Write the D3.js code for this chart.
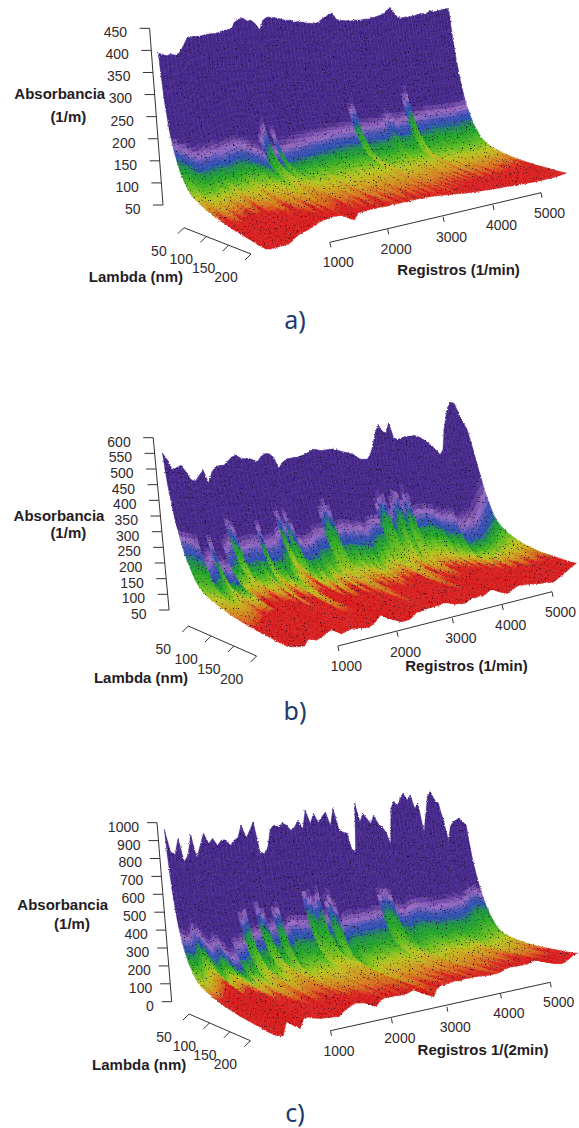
<!DOCTYPE html>
<html>
<head>
<meta charset="utf-8">
<script src="https://cdn.jsdelivr.net/npm/d3@7"></script>
<style>
  body { margin: 0; background: #fff; }
  text { font-family: "Liberation Sans", Arial, sans-serif; fill: #33292c; }
  .titulo { font-weight: bold; font-size: 15px; fill: #241c1f; }
  .marca { font-size: 14px; }
  .pie { font-family: "Noto Sans", sans-serif; font-size: 25px; fill: #1b3a6d; }
</style>
</head>
<body>
<div id="chart"></div>
<script>
// registros of each column of the surface
var registros = [0,70,140,210,280,350,420,490,560,630,700,770,840,910,980,1050,1120,1190,1260,1330,
  1400,1470,1540,1610,1680,1750,1820,1890,1960,2030,2100,2170,2240,2310,2380,2450,2520,2590,2660,2730,
  2800,2870,2940,3010,3080,3150,3220,3290,3360,3430,3500,3570,3640,3710,3780,3850,3920,3990,4060,4130,
  4200,4270,4340,4410,4480,4550,4620,4690,4760,4830,4900,4970,5040,5110,5180,5250,5320,5390,5460,5530]

// lambda of each row, and how the absorbance falls along it
var lambdas = [12,14,16,18,20,22,24,26,28,30,32,34,36,38,40,43,46,49,52,56,60,65,70,76,82,90,98,106,115,125,135,145,155,165,175,185,195,205,220]
var caida = [1,.98,.96,.93,.91,.87,.83,.79,.75,.71,.67,.63,.59,.56,.52,.47,.43,.39,.35,.31,.28,.25,.23,.21,.19,.17,.15,.135,.115,.1,.085,.07,.06,.05,.04,.03,.02,.01,0]
var pared = [1,.75,.55,.4,.3,.21,.15,.1,.07,.05,.03,.02,.01,.005,0,0,0,0,0,0,0,0,0,0,0,0,0,0,0,0,0,0,0,0,0,0,0,0,0]

// a) absorbance at the back of each column, at the front, lambda where it turns blue and red
var techoA = [398,394,391,394,391,396,410,428,432,432,432,434,436,437,437,440,443,445,447,463,
  469,472,464,466,457,442,465,472,472,470,468,465,463,463,458,459,457,455,453,453,
  455,463,468,476,478,462,459,458,457,456,458,458,458,460,460,462,464,467,470,473,
  482,489,474,462,460,462,462,463,465,468,470,470,472,478,474,476,478,480,482,483]
var sueloA = [52,50,50,50,50,51,54,62,67,70,72,76,81,84,86,88,89,88,87,82,
  75,68,84,84,84,85,84,85,84,83,84,83,83,84,82,83,82,83,81,82,
  81,80,79,77,76,74,73,72,70,69,68,67,66,65,64,63,62,61,61,60,
  60,59,58,57,56,56,55,55,54,54,53,53,53,53,52,53,53,54,55,55]
var azulA = [33,35,36,38,40,41,42,44,44,45,46,46,47,47,48,50,52,54,55,56,
  42,38,57,44,56,55,54,54,53,52,52,51,51,50,50,49,49,48,48,48,
  47,47,46,46,34,32,45,44,44,43,43,43,42,40,38,39,41,40,40,39,
  30,28,39,38,38,38,37,37,37,37,37,37,37,37,37,36,36,36,36,36]
var rojoA = [125,112,128,136,116,124,118,138,122,146,152,170,148,180,196,172,200,182,210,190,
  215,185,170,208,190,205,182,214,196,178,210,222,190,216,200,224,204,184,218,196,
  212,186,220,200,178,208,184,216,176,196,168,190,158,182,150,176,152,172,146,168,
  160,140,174,156,144,170,150,138,162,146,156,136,152,130,146,134,150,128,140,126]

// b)
var techoB = [551,529,497,504,511,490,464,459,477,494,452,487,506,508,509,523,536,542,532,529,
  530,525,518,536,545,545,533,494,514,526,528,531,532,537,542,551,560,556,554,556,
  558,559,555,550,547,543,540,530,521,520,521,538,575,618,649,623,617,655,599,593,
  597,602,605,605,608,604,598,589,578,565,549,533,553,629,681,720,739,737,704,645]
var sueloB = [61,57,54,51,50,68,64,59,64,69,77,80,70,60,62,66,68,64,62,60,
  58,66,77,91,90,79,64,57,50,50,51,58,70,69,72,74,74,75,76,80,
  77,72,65,65,60,60,69,72,70,74,70,76,83,85,82,75,68,58,61,68,
  75,77,75,75,71,70,69,65,64,66,60,58,63,70,74,82,89,97,103,109]
var azulB = [36,36,37,38,52,50,40,56,60,46,44,32,34,44,44,44,43,43,34,43,
  43,44,42,32,38,30,34,42,43,42,42,41,41,40,30,27,30,41,40,41,
  40,40,39,39,40,38,37,36,36,28,25,27,35,30,27,26,29,25,27,34,
  34,34,33,34,34,36,38,40,42,44,50,52,54,56,57,57,56,55,54,52]
var rojoB = [150,150,145,140,135,125,115,120,125,98,110,130,92,84,104,112,88,130,96,84,
  104,170,110,88,98,180,130,90,104,84,116,94,128,100,140,190,150,104,120,98,
  124,96,118,90,110,92,104,86,96,140,175,140,92,122,100,165,140,104,116,84,
  96,82,104,86,102,84,106,90,112,100,120,108,134,126,150,140,162,152,172,164]

// c)
var techoC = [961,839,820,912,779,815,928,794,869,935,877,905,865,893,896,862,890,905,978,903,
  946,996,820,803,842,953,973,961,986,971,939,960,1000,947,1061,978,1040,986,1018,1049,
  964,1070,935,919,913,811,788,1101,981,1036,1002,969,1023,968,946,912,833,1066,1110,1087,
  1132,1165,1120,1153,1064,1098,905,1018,1143,1176,1119,1096,982,843,934,969,980,992,967,944]
var sueloC = [28,19,11,85,85,53,28,80,80,69,61,54,52,47,45,39,59,71,83,94,
  88,82,74,58,43,73,81,81,78,76,74,70,79,85,88,84,69,46,15,61,
  70,72,75,77,78,72,78,76,74,74,72,68,64,63,62,60,62,69,76,81,
  78,76,75,72,72,79,84,81,75,64,51,39,30,23,18,21,33,46,57,60]
var azulC = [34,34,35,38,40,42,44,46,52,58,56,46,46,44,30,29,42,43,30,33,
  42,40,30,28,40,39,39,40,40,40,26,28,30,28,40,31,28,30,40,41,
  41,42,41,41,41,40,41,40,40,31,29,29,31,38,39,40,39,39,39,40,
  40,40,41,41,42,42,42,42,41,40,38,37,36,34,33,32,33,34,36,36]
var rojoC = [95,88,92,84,90,96,100,118,130,140,132,118,136,150,162,142,170,156,178,150,
  182,160,190,204,170,196,214,176,206,186,218,192,210,228,186,212,194,176,216,190,
  206,222,184,214,196,178,210,190,226,204,184,216,196,178,210,226,188,212,198,176,
  208,190,172,204,186,168,198,178,190,164,186,166,180,156,172,160,178,150,166,146]

// tick labels
var ticksAbsA = [50,100,150,200,250,300,350,400,450]
var ticksAbsB = [50,100,150,200,250,300,350,400,450,500,550,600]
var ticksAbsC = [0,100,200,300,400,500,600,700,800,900,1000]
var ticksReg = [1000,2000,3000,4000,5000]
var ticksLambda = [50,100,150,200]

var colorLila = d3.scaleLinear()
  .domain([0, .58, .74, .88, 1])
  .range(['#47298c', '#47298c', '#9a6cc4', '#3f4fb4', '#2a52b0'])

var colorBase = d3.scaleLinear()
  .domain([0, .08, .19, .37, .56, .74, .9, 1])
  .range(['#2a52b0', '#1f8f4a', '#22a52a', '#62bd1e', '#b8c41e', '#cf9c1e', '#d9651e', '#d81f1f'])
  .clamp(true)

var svg = d3.select('#chart').append('svg')
  .attr('width', 579)
  .attr('height', 1128)
  .style('display', 'block')

var filtro = svg.append('defs').append('filter')
  .attr('id', 'motas')
  .attr('x', -.02).attr('y', -.02).attr('width', 1.04).attr('height', 1.04)
  .attr('color-interpolation-filters', 'sRGB')
filtro.append('feTurbulence').attr('type', 'fractalNoise').attr('baseFrequency', .75).attr('numOctaves', 2).attr('seed', 4).attr('result', 'ruido')
filtro.append('feDisplacementMap').attr('in', 'SourceGraphic').attr('in2', 'ruido').attr('scale', 2.5)
  .attr('xChannelSelector', 'G').attr('yChannelSelector', 'B').attr('result', 'roto')
filtro.append('feGaussianBlur').attr('in', 'roto').attr('stdDeviation', .35).attr('result', 'suave')
filtro.append('feColorMatrix').attr('in', 'ruido').attr('type', 'matrix')
  .attr('values', '0 0 0 0 .08  0 0 0 0 .05  0 0 0 0 .1  7 0 0 0 -4.55')
  .attr('result', 'puntos')
filtro.append('feComposite').attr('in', 'puntos').attr('in2', 'suave').attr('operator', 'in').attr('result', 'recorte')
var mezcla = filtro.append('feMerge')
mezcla.append('feMergeNode').attr('in', 'suave')
mezcla.append('feMergeNode').attr('in', 'recorte')

var regFrac = d3.scaleLinear()
  .domain([0, 1000, 2000, 3000, 4000, 5000, 5530])
  .range([0, .204, .4, .589, .758, .92, 1])
var lamFrac = d3.scaleLinear().domain([12, 220]).range([0, 1])

function color_celda(lam, azul, rojo) {
  var t = lamFrac(lam), tb = lamFrac(azul), tr = lamFrac(rojo)
  if (t <= tb) return colorLila(t / tb)
  return colorBase(Math.log(t / tb) / Math.log(tr / tb))
}

function draw_panel(p) {
  var xBack = d3.scaleLinear().domain([0, 1]).range(p.xBack)
  var yBack = d3.scaleLinear().domain([0, 1]).range(p.yBack)
  var xFront = d3.scaleLinear().domain([0, 1]).range(p.xFront)
  var yFront = d3.scaleLinear().domain([0, 1]).range(p.yFront)
  var zPx = d3.scaleLinear().domain([0, 1]).range(p.zPx)
  var codo = d3.scaleLinear().domain(p.codoReg).range(p.codo)

  function punto(reg, lam, abs) {
    var f = regFrac(reg), t = lamFrac(lam)
    var x = xBack(f) + (xFront(f) - xBack(f)) * t - p.skew * (abs - p.base)
    var y = yBack(f) + (yFront(f) - yBack(f)) * t - zPx(f) * (abs - p.base)
    return [x, y]
  }

  function abs_en(i, j) {
    var k = codo(registros[i])
    return p.suelo[i] + k * caida[j] + (p.techo[i] - p.suelo[i] - k) * pared[j]
  }

  // cells from the far right to the near left, back to front inside each column
  var celdas = []
  for (var i = registros.length - 2; i >= 0; i--) {
    for (var j = 0; j < lambdas.length - 1; j++) {
      celdas.push({ i: i, j: j })
    }
  }

  var g = svg.append('g').attr('filter', 'url(#motas)')
  g.selectAll('path').data(celdas).join('path')
    .attr('d', function(c) {
      var a = punto(registros[c.i], lambdas[c.j], abs_en(c.i, c.j))
      var b = punto(registros[c.i + 1], lambdas[c.j], abs_en(c.i + 1, c.j))
      var e = punto(registros[c.i + 1], lambdas[c.j + 1], abs_en(c.i + 1, c.j + 1))
      var d = punto(registros[c.i], lambdas[c.j + 1], abs_en(c.i, c.j + 1))
      return d3.line()([a, b, e, d]) + 'Z'
    })
    .attr('fill', function(c) { return color_celda(lambdas[c.j], p.azul[c.i], p.rojo[c.i]) })
    .attr('stroke', function(c) { return color_celda(lambdas[c.j], p.azul[c.i], p.rojo[c.i]) })
    .attr('stroke-width', .5)

  // absorbance axis
  var zd = d3.extent(p.ticksAbs)
  var zx = d3.scaleLinear().domain(zd).range(p.zEjeX)
  var zy = d3.scaleLinear().domain(zd).range(p.zEjeY)
  var ejes = svg.append('g').attr('stroke', '#3a2f30').attr('fill', 'none')
  ejes.append('line').attr('x1', zx(zd[0])).attr('y1', zy(zd[0])).attr('x2', zx(zd[1])).attr('y2', zy(zd[1]))
  ejes.selectAll('.tz').data(p.ticksAbs).join('line').attr('class', 'tz')
    .attr('x1', zx).attr('y1', zy)
    .attr('x2', function(d) { return zx(d) - 10 }).attr('y2', zy)
  svg.append('g').selectAll('text').data(p.ticksAbs).join('text')
    .attr('class', 'marca')
    .attr('x', function(d) { return zx(d) - p.zGap })
    .attr('y', function(d) { return zy(d) + 4 })
    .attr('dy', '.35em')
    .attr('text-anchor', 'end')
    .text(function(d) { return d })

  // registros axis
  var rx = d3.scaleLinear().domain(ticksReg).range(p.regEjeX)
  var ry = d3.scaleLinear().domain(ticksReg).range(p.regEjeY)
  ejes.append('line').attr('x1', rx(1000)).attr('y1', ry(1000)).attr('x2', rx(5000)).attr('y2', ry(5000))
  ejes.selectAll('.tr').data(ticksReg).join('line').attr('class', 'tr')
    .attr('x1', rx).attr('y1', ry)
    .attr('x2', function(d) { return rx(d) + 1 }).attr('y2', function(d) { return ry(d) + 5 })
  svg.append('g').selectAll('text').data(ticksReg).join('text')
    .attr('class', 'marca')
    .attr('x', function(d) { return rx(d) + 8.5 })
    .attr('y', function(d) { return ry(d) + 20 })
    .attr('dy', '.35em')
    .attr('text-anchor', 'middle')
    .text(function(d) { return d })

  // lambda axis
  var lx = d3.scaleLinear().domain([50, 200]).range(p.lamEjeX)
  var ly = d3.scaleLinear().domain([50, 200]).range(p.lamEjeY)
  ejes.append('line').attr('x1', lx(50)).attr('y1', ly(50)).attr('x2', lx(200)).attr('y2', ly(200))
  ejes.selectAll('.tl').data(ticksLambda).join('line').attr('class', 'tl')
    .attr('x1', lx).attr('y1', ly)
    .attr('x2', function(d) { return lx(d) - 6 }).attr('y2', function(d) { return ly(d) + 6 })
  svg.append('g').selectAll('text').data(ticksLambda).join('text')
    .attr('class', 'marca')
    .attr('x', function(d) { return lx(d) - 25 })
    .attr('y', function(d) { return ly(d) + 23 })
    .attr('dy', '.35em')
    .attr('text-anchor', 'middle')
    .text(function(d) { return d })

  // titles
  svg.append('g').selectAll('text').data(p.titulos).join('text')
    .attr('class', 'titulo')
    .attr('x', function(d) { return d[1] })
    .attr('y', function(d) { return d[2] })
    .attr('dy', '.35em')
    .attr('text-anchor', 'middle')
    .text(function(d) { return d[0] })

  svg.append('text').attr('class', 'pie')
    .attr('x', 295).attr('y', p.pieY).attr('dy', '.35em')
    .attr('text-anchor', 'middle')
    .text(p.pie)
}

draw_panel({
  techo: techoA, suelo: sueloA, azul: azulA, rojo: rojoA, ticksAbs: ticksAbsA, base: 50, skew: .0335,
  xBack: [170, 463], yBack: [207, 160], xFront: [266, 567], yFront: [250, 175], zPx: [.4425, .35],
  codoReg: [0, 5530], codo: [180, 205],
  zEjeX: [163, 149.6], zEjeY: [205, 28.3], zGap: 22.5,
  regEjeX: [329.8, 387.7, 443.1, 493, 541], regEjeY: [242.3, 229.3, 216.7, 205, 192.7],
  lamEjeX: [183.9, 251], lamEjeY: [227.7, 254],
  titulos: [['Absorbancia', 59.8, 94], ['(1/m)', 68.3, 116.7], ['Lambda (nm)', 135.9, 276.7], ['Registros (1/min)', 458.6, 269.3]],
  pie: 'a)', pieY: 320
})

draw_panel({
  techo: techoB, suelo: sueloB, azul: azulB, rojo: rojoB, ticksAbs: ticksAbsB, base: 50, skew: .029,
  xBack: [177, 480], yBack: [610, 575], xFront: [288, 578], yFront: [650, 578], zPx: [.313, .25],
  codoReg: [0, 4600, 5000, 5530], codo: [320, 320, 420, 600],
  zEjeX: [169.1, 153.2], zEjeY: [610, 437.7], zGap: 22.5,
  regEjeX: [337.9, 397, 452.4, 502.2, 552], regEjeY: [646, 631.7, 618.3, 605, 591.7],
  lamEjeX: [188.3, 256.6], lamEjeY: [626, 656],
  titulos: [['Absorbancia', 59, 516], ['(1/m)', 68.3, 532.3], ['Lambda (nm)', 141, 677.7], ['Registros (1/min)', 466.4, 665.7]],
  pie: 'b)', pieY: 711
})

draw_panel({
  techo: techoC, suelo: sueloC, azul: azulC, rojo: rojoC, ticksAbs: ticksAbsC, base: 0, skew: .0147,
  xBack: [178.5, 480], yBack: [1002, 960], xFront: [274.7, 578.3], yFront: [1040, 962], zPx: [.179, .143],
  codoReg: [0, 3000, 5530], codo: [450, 490, 560],
  zEjeX: [171.7, 157], zEjeY: [1001.7, 822.7], zGap: 18,
  regEjeX: [330.5, 391.4, 446.8, 500.4, 550.2], regEjeY: [1030.7, 1018.3, 1006.7, 993.3, 982.3],
  lamEjeX: [189, 250.4], lamEjeY: [1014, 1040.7],
  titulos: [['Absorbancia', 62.8, 905], ['(1/m)', 72, 923.3], ['Lambda (nm)', 139.2, 1064.3], ['Registros 1/(2min)', 483, 1050]],
  pie: 'c)', pieY: 1113
})
</script>
</body>
</html>
